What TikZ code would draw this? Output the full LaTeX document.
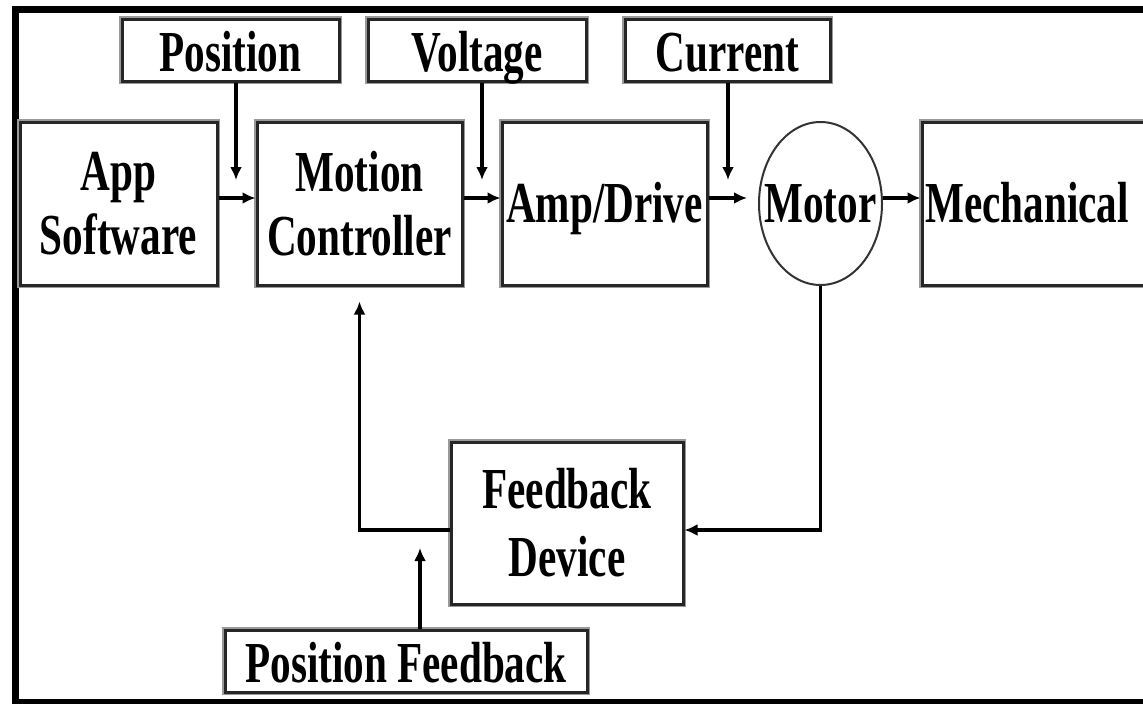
\documentclass[tikz,border=0pt]{standalone}
\usepackage{fontspec}
\newfontfamily\diagfont[FakeStretch=0.71]{Liberation Serif}
\usetikzlibrary{arrows.meta,shapes.geometric}
\begin{document}
\begin{tikzpicture}[x=1pt,y=-1pt,
  every node/.style={font=\diagfont\bfseries\fontsize{58}{64}\selectfont, inner sep=0pt, align=center},
  blk/.style={draw=black!85, line width=3pt, preaction={draw=black!40, line width=5.5pt}, fill=white, rectangle},
  oneline/.style={text height=38pt, text depth=0pt},
  topline/.style={text height=42pt, text depth=0pt},
  oval/.style={draw=black!80, line width=2pt, ellipse},
  arr/.style={line width=3.5pt, -{Latex[length=13pt,width=12pt]}},
  frame/.style={line width=7pt}]
\useasboundingbox (0,0) rectangle (1143,704);
\clip (0,0) rectangle (1143,704);
\fill[white] (0,0) rectangle (1143,704);
\draw[frame] (1160,9.5) -- (15,9.5) -- (15,702) -- (1160,702);

% blocks
\node[blk, topline, minimum width=217pt, minimum height=62pt] (pos) at (230.5,50) {Position};
\node[blk, topline, minimum width=218pt, minimum height=62pt] (volt) at (477,50) {Voltage};
\node[blk, topline, minimum width=205pt, minimum height=62pt] (cur) at (727.5,50) {Current};
\node[blk, minimum width=197pt, minimum height=163pt] (app) at (118.5,203.5) {App\\Software};
\node[blk, minimum width=205pt, minimum height=163pt] (mc) at (359.5,203.5) {Motion\\Controller};
\node[blk, oneline, minimum width=205pt, minimum height=163pt] (amp) at (604.5,203.5) {Amp/Drive};
\node[oval, minimum width=123pt, minimum height=163pt] (motor) at (820.5,203.5) {};
\node[oneline] (motortext) at (820.5,203.5) {Motor};
\node[blk, oneline, minimum width=240pt, minimum height=163pt, text width=240pt] (mech) at (1042,203.5) {\hspace*{-30pt}Mechanical};
\node[blk, minimum width=232pt, minimum height=162pt] (fd) at (567,523) {Feedback\\[4pt]Device};
\node[blk, topline, minimum width=362pt, minimum height=62pt] (pf) at (406,661) {Position Feedback};

% free ends
\coordinate (pend) at (236,180);
\coordinate (vend) at (482,180);
\coordinate (cend) at (728,180);
\coordinate (pfend) at (420,548);
\coordinate (mtip) at (747,198);

% connectors
\draw[arr] ([xshift=5.5pt]pos.south) -- (pend);
\draw[arr] ([xshift=5pt]volt.south) -- (vend);
\draw[arr] ([xshift=0.5pt]cur.south) -- (cend);
\draw[arr] ([yshift=5.5pt]app.east) -- ([yshift=5.5pt]mc.west);
\draw[arr] ([yshift=5.5pt]mc.east) -- ([yshift=5.5pt]amp.west);
\draw[arr] ([yshift=5.5pt]amp.east) -- (mtip);
\draw[arr] (motor.east |- mtip) -- (mech.west |- mtip);
\draw[arr] (motor.south) |- ([yshift=-7pt]fd.east);
\draw[arr] ([yshift=-7pt]fd.west) -| ([yshift=-15pt]mc.south);
\draw[arr] ([xshift=14pt]pf.north) -- (pfend);
\end{tikzpicture}
\end{document}
